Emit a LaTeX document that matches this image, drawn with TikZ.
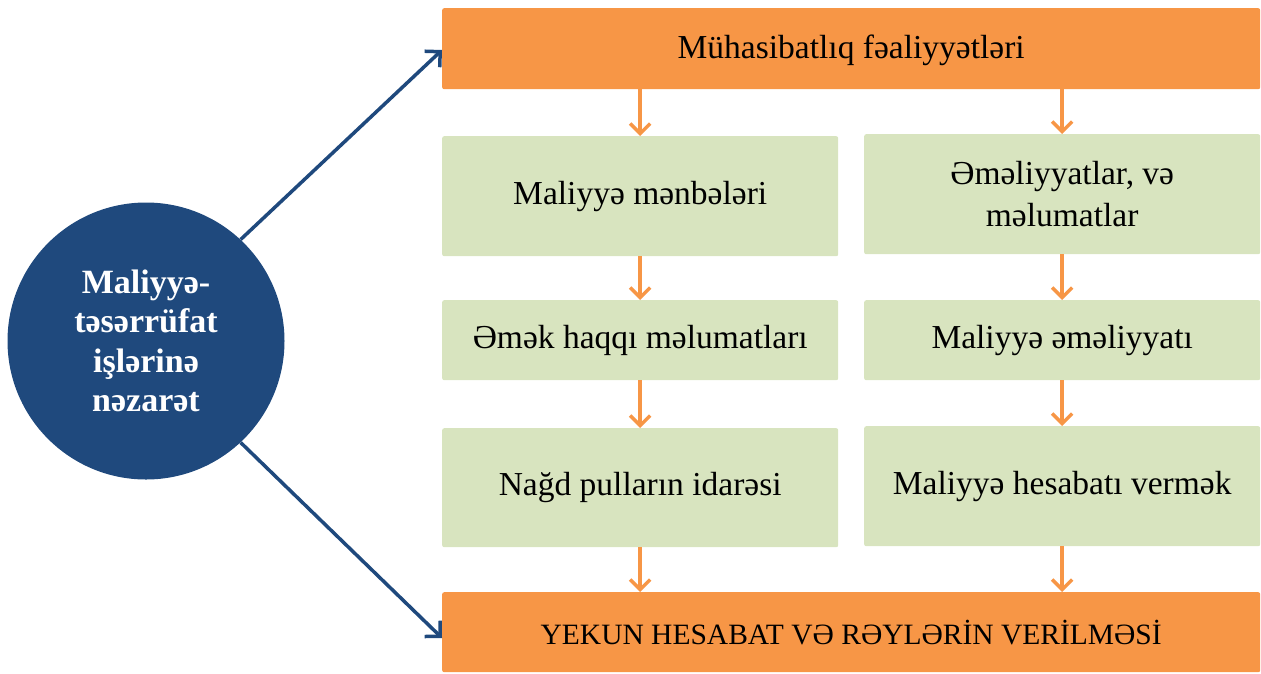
\documentclass[tikz,border=0pt]{standalone}
\usepackage{fontspec}
\setmainfont{Liberation Serif}
\usetikzlibrary{arrows.meta}
\definecolor{orng}{HTML}{F79646}
\definecolor{grn}{HTML}{D8E4BF}
\definecolor{navy}{HTML}{1F497D}
\tikzset{
  obox/.style={fill=orng, rounded corners=2pt, inner sep=0pt, anchor=north west},
  gbox/.style={fill=grn, rounded corners=2pt, inner sep=0pt, anchor=north west},
  lbl/.style={font=\fontsize{33.5}{42}\selectfont, align=center, text=black},
  oarr/.style={draw=orng, line width=3.5pt, -{Straight Barb[length=10pt,width=20pt,line width=3.5pt]}},
  barr/.style={draw=navy, line width=3.5pt, -{Straight Barb[length=11pt,width=22pt,line width=3.5pt]}},
}
\begin{document}
\begin{tikzpicture}[x=1pt,y=-1pt]
\useasboundingbox (0,0) rectangle (1261,673);
% boxes
\node[obox, minimum width=818pt, minimum height=81pt] (top) at (442,8) {};
\node[lbl] at ([yshift=-2pt]top.center) {Mühasibatlıq fəaliyyətləri};
\node[gbox, minimum width=396pt, minimum height=120pt] (l1) at (442,136) {};
\node[lbl] at (l1.center) {Maliyyə mənbələri};
\node[gbox, minimum width=396pt, minimum height=120pt] (r1) at (864,134) {};
\node[lbl] at (r1.center) {Əməliyyatlar, və\\məlumatlar};
\node[gbox, minimum width=396pt, minimum height=80pt] (l2) at (442,300) {};
\node[lbl] at (l2.center) {Əmək haqqı məlumatları};
\node[gbox, minimum width=396pt, minimum height=80pt] (r2) at (864,300) {};
\node[lbl] at (r2.center) {Maliyyə əməliyyatı};
\node[gbox, minimum width=396pt, minimum height=119pt] (l3) at (442,428) {};
\node[lbl] at (l3.center) {Nağd pulların idarəsi};
\node[gbox, minimum width=396pt, minimum height=120pt] (r3) at (864,426) {};
\node[lbl] at (r3.center) {Maliyyə hesabatı vermək};
\node[obox, minimum width=818pt, minimum height=80pt] (bot) at (442,592) {};
\node[lbl, font=\fontsize{29.5}{36}\selectfont] at (bot.center) {YEKUN HESABAT VƏ RƏYLƏRİN VERİLMƏSİ};
% circle
\node[circle, fill=navy, minimum size=277pt, inner sep=0pt] (c) at (146,341) {};
\node[font=\bfseries\fontsize{34}{39.5}\selectfont, text=white, align=center] at (c.center) {Maliyyə-\\təsərrüfat\\işlərinə\\nəzarət};
% orange arrows
\draw[oarr] (top.south -| l1.north) -- (l1.north);
\draw[oarr] (top.south -| r1.north) -- (r1.north);
\draw[oarr] (l1.south) -- (l2.north);
\draw[oarr] (r1.south) -- (r2.north);
\draw[oarr] (l2.south) -- (l3.north);
\draw[oarr] (r2.south) -- (r3.north);
\draw[oarr] (l3.south) -- (bot.north -| l3.south);
\draw[oarr] (r3.south) -- (bot.north -| r3.south);
% blue arrows
\draw[barr] (c.47) -- (top.west |- 0,50);
\draw[barr] (c.-47) -- (bot.west |- 0,638);
\end{tikzpicture}
\end{document}
